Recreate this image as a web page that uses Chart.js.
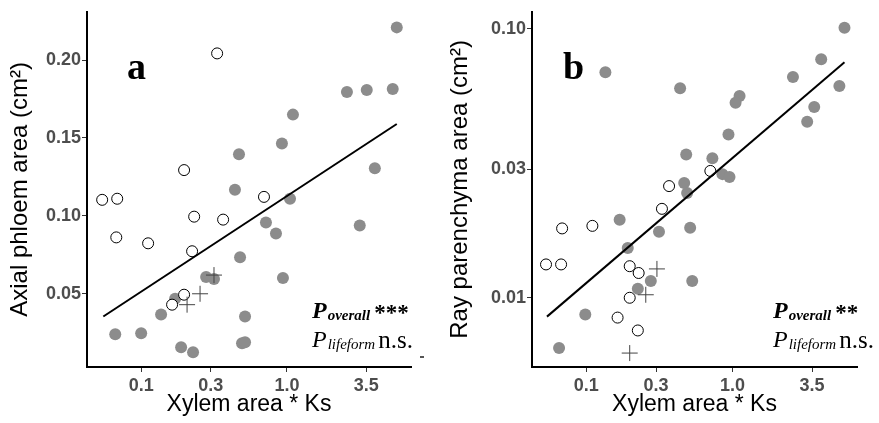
<!DOCTYPE html>
<html>
<head>
<meta charset="utf-8">
<script src="https://cdn.jsdelivr.net/npm/chart.js@4.4.0/dist/chart.umd.min.js"></script>
<style>
  body { margin: 0; background: #fff; }
  #wrap { position: relative; width: 879px; height: 423px; }
  canvas { position: absolute; top: 0; }
</style>
</head>
<body>
<div id="wrap">
  <canvas id="panelA" width="440" height="423" style="left:0"></canvas>
  <canvas id="panelB" width="439" height="423" style="left:440px"></canvas>
</div>
<script>
// shared x axis (log)
var xTicks = [0.1, 0.3, 1, 3.5];
var xTickLabels = ['0.1', '0.3', '1.0', '3.5'];

// panel a - axial phloem area
var phloemTicks = [0.05, 0.10, 0.15, 0.20];
var phloemTickLabels = ['0.05', '0.10', '0.15', '0.20'];
var phloemFilledX = [5.67, 2.58, 3.53, 5.32, 1.10, 0.924, 0.469, 4.01, 0.440, 1.05, 0.718, 0.841, 3.16,
  0.477, 0.279, 0.316, 0.939, 0.171, 0.137, 0.516, 0.0664, 0.100, 0.492, 0.516, 0.188, 0.227];
var phloemFilledY = [0.221, 0.1795, 0.1808, 0.1814, 0.165, 0.1465, 0.1395, 0.1306, 0.1167, 0.111, 0.0957, 0.0887, 0.0938,
  0.0735, 0.0608, 0.0595, 0.0602, 0.0468, 0.0367, 0.0354, 0.024, 0.0246, 0.0183, 0.0189, 0.0157, 0.0125];
var phloemOpenX = [0.332, 0.197, 0.696, 0.054, 0.0685, 0.231, 0.365, 0.0675, 0.1116, 0.2236, 0.197, 0.163];
var phloemOpenY = [0.2043, 0.1294, 0.1122, 0.1103, 0.111, 0.0995, 0.0976, 0.0862, 0.0824, 0.0773, 0.0494, 0.043];
var phloemPlusX = [0.316, 0.2535, 0.2065];
var phloemPlusY = [0.062, 0.050, 0.043];
var phloemFitX = [0.055, 5.67];
var phloemFitY = [0.0354, 0.159];

// panel b - ray parenchyma area
var rayTicks = [0.01, 0.03, 0.10];
var rayTickLabels = ['0.01', '0.03', '0.10'];
var rayFilledX = [5.83, 4.04, 0.135, 2.59, 5.38, 0.438, 1.117, 1.049, 3.62, 3.24, 0.938, 0.482, 0.728,
  0.853, 0.953, 0.467, 0.489, 0.169, 0.314, 0.513, 0.192, 0.276, 0.530, 0.225, 0.0984, 0.0651];
var rayFilledY = [0.1008, 0.0769, 0.0689, 0.0661, 0.0612, 0.0601, 0.0562, 0.0530, 0.0512, 0.0451, 0.0404, 0.0341, 0.0330,
  0.0288, 0.0281, 0.0267, 0.0245, 0.0195, 0.0176, 0.0182, 0.0153, 0.01155, 0.01155, 0.0108, 0.00866, 0.0065];
var rayOpenX = [0.705, 0.368, 0.329, 0.0683, 0.110, 0.053, 0.0672, 0.198, 0.228, 0.198, 0.1636, 0.225];
var rayOpenY = [0.0296, 0.0260, 0.0214, 0.0181, 0.0185, 0.0133, 0.0133, 0.0131, 0.01236, 0.0100, 0.00844, 0.00756];
var rayPlusX = [0.304, 0.255, 0.198];
var rayPlusY = [0.0128, 0.01026, 0.00623];
var rayFitX = [0.0538, 5.83];
var rayFitY = [0.00851, 0.0750];

var sans = "'Liberation Sans', Arial, sans-serif";
var serif = "'Liberation Serif', 'Times New Roman', serif";

function pts(xs, ys) {
  return xs.map(function(x, i) { return { x: x, y: ys[i] }; });
}

// letter + P annotations drawn on top of each panel
function notesPlugin(letter, letterX, pX, stars) {
  return {
    id: 'notes',
    afterDraw: function(chart) {
      var ctx = chart.ctx;
      ctx.save();
      ctx.fillStyle = '#000';
      ctx.textBaseline = 'alphabetic';
      ctx.textAlign = 'left';
      ctx.font = 'bold 38px ' + serif;
      ctx.fillText(letter, letterX, 79);

      // P overall
      var x = pX;
      ctx.font = 'italic bold 24px ' + serif;
      ctx.fillText('P', x, 318);
      x += ctx.measureText('P').width + 1;
      ctx.font = 'italic bold 15px ' + serif;
      ctx.fillText('overall', x, 320);
      x += ctx.measureText('overall').width + 4;
      ctx.font = 'bold 23px ' + serif;
      ctx.fillText(stars, x, 320);

      // P lifeform
      x = pX;
      ctx.font = 'italic 24px ' + serif;
      ctx.fillText('P', x, 347);
      x += ctx.measureText('P').width + 1;
      ctx.font = 'italic 15px ' + serif;
      ctx.fillText('lifeform', x, 349);
      x += ctx.measureText('lifeform').width + 3;
      ctx.font = '25px ' + serif;
      ctx.fillText('n.s.', x, 348);
      ctx.restore();
    }
  };
}

function makePanel(canvasId, cfg) {
  var tickFont = { family: sans, size: 18, weight: 'bold' };
  var grid = { display: true, drawOnChartArea: false, drawTicks: true, tickLength: 5, tickColor: '#333', tickWidth: 1 };
  var border = { display: true, color: '#000', width: 2 };

  return new Chart(document.getElementById(canvasId), {
    type: 'scatter',
    data: {
      datasets: [
        {
          type: 'line',
          data: pts(cfg.fitX, cfg.fitY),
          borderColor: '#000',
          borderWidth: 2,
          pointRadius: 0,
          fill: false,
          order: 0
        },
        {
          data: pts(cfg.plusX, cfg.plusY),
          pointStyle: 'cross',
          pointRadius: 8,
          borderColor: '#444',
          borderWidth: 1,
          order: 1
        },
        {
          data: pts(cfg.openX, cfg.openY),
          pointRadius: 5.5,
          backgroundColor: '#fff',
          borderColor: '#000',
          borderWidth: 1,
          order: 2
        },
        {
          data: pts(cfg.filledX, cfg.filledY),
          pointRadius: 6,
          backgroundColor: '#8c8c8c',
          borderColor: '#8c8c8c',
          borderWidth: 0,
          order: 3
        }
      ]
    },
    options: {
      animation: false,
      responsive: false,
      layout: { padding: { left: 0, right: cfg.padRight, top: 8, bottom: 0 } },
      plugins: { legend: { display: false }, tooltip: { enabled: false } },
      scales: {
        x: {
          type: 'logarithmic',
          min: 0.0425,
          max: 7.1,
          afterBuildTicks: function(s) { s.ticks = xTicks.map(function(v) { return { value: v }; }); },
          afterFit: function(s) { s.height = 56; },
          ticks: {
            autoSkip: false, maxRotation: 0, padding: 3, color: '#4d4d4d', font: tickFont,
            callback: function(v, i) { return xTickLabels[i]; }
          },
          grid: grid,
          border: border,
          title: {
            display: true, text: 'Xylem area * Ks', color: '#000',
            font: { family: sans, size: 23 }, padding: { top: 0, bottom: 5 }
          }
        },
        y: {
          type: cfg.yType,
          min: cfg.yMin,
          max: cfg.yMax,
          afterBuildTicks: function(s) { s.ticks = cfg.yTicks.map(function(v) { return { value: v }; }); },
          afterFit: function(s) { s.width = cfg.yWidth; },
          ticks: {
            autoSkip: false, padding: 1, color: '#4d4d4d', font: tickFont,
            callback: function(v, i) { return cfg.yTickLabels[i]; }
          },
          grid: grid,
          border: border,
          title: {
            display: true, text: cfg.yTitle, color: '#000',
            font: { family: sans, size: 24 }, padding: { top: 6, bottom: 0 }
          }
        }
      }
    },
    plugins: [notesPlugin(cfg.letter, cfg.letterX, cfg.pX, cfg.stars), {
      id: 'dash',
      afterDraw: function(chart) {
        if (!cfg.dash) return;
        var ctx = chart.ctx;
        ctx.save();
        ctx.fillStyle = '#555';
        ctx.fillRect(420, 356, 4, 2);
        ctx.restore();
      }
    }]
  });
}

makePanel('panelA', {
  filledX: phloemFilledX, filledY: phloemFilledY,
  openX: phloemOpenX, openY: phloemOpenY,
  plusX: phloemPlusX, plusY: phloemPlusY,
  fitX: phloemFitX, fitY: phloemFitY,
  yType: 'linear', yMin: 0.003, yMax: 0.231,
  yTicks: phloemTicks, yTickLabels: phloemTickLabels,
  yTitle: 'Axial phloem area (cm²)',
  yWidth: 87, padRight: 29,
  letter: 'a', letterX: 127, pX: 312, stars: '***', dash: true
});

makePanel('panelB', {
  filledX: rayFilledX, filledY: rayFilledY,
  openX: rayOpenX, openY: rayOpenY,
  plusX: rayPlusX, plusY: rayPlusY,
  fitX: rayFitX, fitY: rayFitY,
  yType: 'logarithmic', yMin: 0.00553, yMax: 0.1155,
  yTicks: rayTicks, yTickLabels: rayTickLabels,
  yTitle: 'Ray parenchyma area (cm²)',
  yWidth: 92, padRight: 22,
  letter: 'b', letterX: 123, pX: 333, stars: '**', dash: false
});
</script>
</body>
</html>
